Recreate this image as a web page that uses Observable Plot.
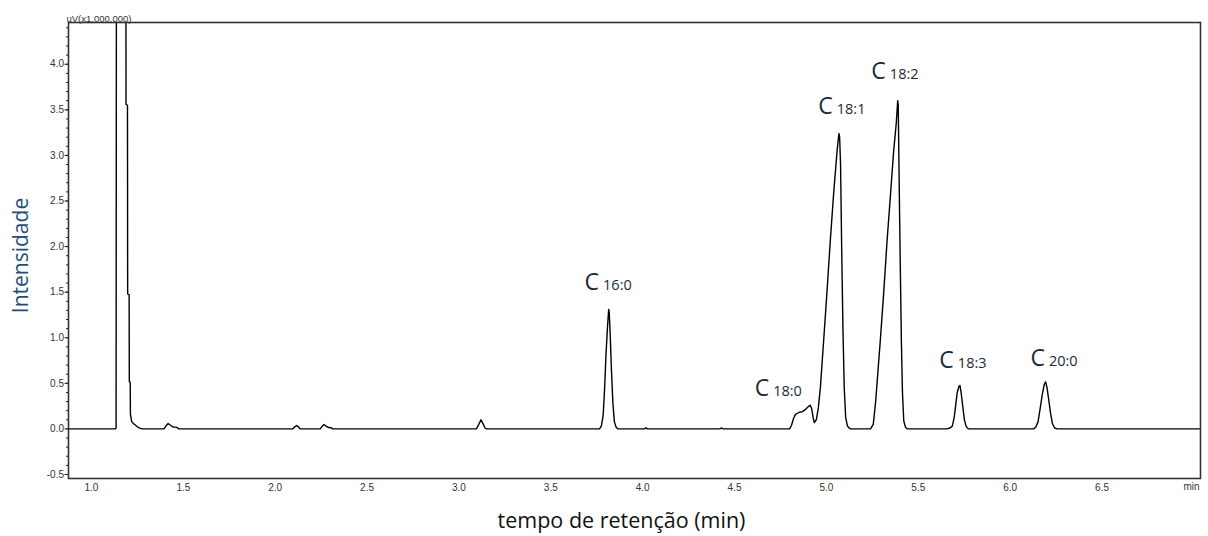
<!DOCTYPE html>
<html>
<head>
<meta charset="utf-8">
<script src="https://cdn.jsdelivr.net/npm/d3@7"></script>
<script src="https://cdn.jsdelivr.net/npm/@observablehq/plot@0.6"></script>
<style>
  html, body { margin: 0; padding: 0; background: #fff; }
</style>
</head>
<body>
<div id="chart"></div>
<script>
// Retention time (min) and detector intensity (uV x 1,000,000)
const time = [
  0.875, 1.130, 1.134, 1.138, 1.186, 1.188, 1.196, 1.197, 1.205, 1.206, 1.211, 1.212, 1.219, 1.228, 1.240, 1.255, 1.275,
  1.395, 1.405, 1.417, 1.430, 1.445, 1.458, 1.466, 1.475,
  2.095, 2.108, 2.117, 2.128, 2.135,
  2.245, 2.256, 2.265, 2.277, 2.290, 2.305, 2.312,
  3.095, 3.108, 3.120, 3.130, 3.142, 3.150,
  3.765, 3.775, 3.785, 3.793, 3.800, 3.808, 3.815, 3.818, 3.823, 3.830, 3.838, 3.846, 3.855, 3.865,
  4.010, 4.018, 4.026,
  4.420, 4.428, 4.438,
  4.800, 4.810, 4.822, 4.832, 4.850, 4.870, 4.890, 4.905, 4.912, 4.920, 4.928, 4.934, 4.945, 4.956,
  4.967, 4.985, 5.003, 5.021, 5.040, 5.058, 5.068, 5.072, 5.077, 5.083, 5.090, 5.097, 5.105, 5.115, 5.130,
  5.240, 5.255, 5.268, 5.280, 5.293, 5.312, 5.330, 5.348, 5.366, 5.380, 5.388, 5.391, 5.396, 5.402, 5.408, 5.414, 5.421, 5.430, 5.440,
  5.655, 5.672, 5.685, 5.695, 5.703, 5.712, 5.722, 5.727, 5.733, 5.742, 5.751, 5.760, 5.772,
  6.128, 6.140, 6.152, 6.163, 6.175, 6.186, 6.193, 6.200, 6.210, 6.220, 6.230, 6.242, 6.255,
  7.036
];
const intensity = [
  0, 0, 0.01, 12, 12, 3.56, 3.55, 1.48, 1.47, 0.52, 0.51, 0.16, 0.08, 0.06, 0.04, 0.015, 0,
  0, 0.03, 0.06, 0.04, 0.02, 0.02, 0.015, 0,
  0, 0.025, 0.037, 0.02, 0,
  0, 0.03, 0.048, 0.03, 0.015, 0.012, 0,
  0, 0.05, 0.10, 0.06, 0.01, 0,
  0, 0.03, 0.15, 0.45, 0.80, 1.10, 1.31, 1.28, 1.05, 0.65, 0.28, 0.08, 0.02, 0,
  0, 0.012, 0,
  0, 0.01, 0,
  0, 0.04, 0.12, 0.16, 0.18, 0.19, 0.22, 0.25, 0.26, 0.22, 0.12, 0.07, 0.10, 0.23,
  0.45, 0.97, 1.50, 2.06, 2.60, 3.05, 3.24, 3.20, 2.90, 2.00, 1.10, 0.45, 0.12, 0.03, 0,
  0, 0.05, 0.30, 0.62, 0.96, 1.50, 2.06, 2.55, 3.05, 3.35, 3.60, 3.55, 2.70, 1.80, 0.96, 0.40, 0.09, 0.02, 0,
  0, 0.01, 0.03, 0.12, 0.25, 0.40, 0.47, 0.475, 0.40, 0.25, 0.10, 0.03, 0,
  0, 0.02, 0.08, 0.22, 0.38, 0.49, 0.515, 0.46, 0.32, 0.17, 0.06, 0.01, 0,
  0
];

// Peak labels
const peakNames = ["16:0", "18:0", "18:1", "18:2", "18:3", "20:0"];
const peakLabelTime = [3.768, 4.694, 5.040, 5.329, 5.699, 6.195];
const peakLabelValue = [1.526, 0.360, 3.451, 3.839, 0.671, 0.690];

// Axis ticks
const xTicks = [1.0, 1.5, 2.0, 2.5, 3.0, 3.5, 4.0, 4.5, 5.0, 5.5, 6.0, 6.5];
const yTicks = [-0.5, 0.0, 0.5, 1.0, 1.5, 2.0, 2.5, 3.0, 3.5, 4.0];
const yMinorTicks = d3.range(-5, 45).map(d => d / 10);

const series = time.map((t, i) => ({t, v: intensity[i]}));
const labels = peakNames.map((n, i) => ({n, t: peakLabelTime[i], v: peakLabelValue[i]}));

const labelColor = "#1b2a3c";

const chart = Plot.plot({
  width: 1208,
  height: 536,
  marginLeft: 68,
  marginRight: 8,
  marginTop: 22,
  marginBottom: 58,
  style: {fontFamily: "'Liberation Sans', Arial, sans-serif", background: "#fff"},
  x: {domain: [0.875, 7.036]},
  y: {domain: [-0.544, 4.458]},
  marks: [
    Plot.axisY(yMinorTicks, {tickSize: 2, text: null, stroke: "#222", strokeWidth: 1, label: null}),
    Plot.axisY(yTicks, {tickSize: 3.5, tickPadding: 1, tickFormat: d => d.toFixed(1), fontSize: 10, fill: "#333", stroke: "#222", label: null}),
    Plot.axisX(xTicks, {tickSize: 0, tickPadding: 5, tickFormat: d => d.toFixed(1), fontSize: 10, fill: "#333", label: null}),
    Plot.line(series, {x: "t", y: "v", stroke: "#000", strokeWidth: 1.4, clip: true}),
    Plot.frame({stroke: "#333", strokeWidth: 1.6}),
    Plot.text(labels, {x: "t", y: "v", text: () => "C", textAnchor: "end", lineAnchor: "bottom", dx: -1, fontSize: 23, fill: labelColor, fontFamily: "'Open Sans', sans-serif"}),
    Plot.text(labels, {x: "t", y: "v", text: "n", textAnchor: "start", lineAnchor: "bottom", dx: 3, fontSize: 14.5, fill: labelColor, fontFamily: "'Open Sans', sans-serif"}),
    Plot.text(["uV(x1,000,000)"], {frameAnchor: "top-left", textAnchor: "start", lineAnchor: "bottom", dx: -2, dy: -1, fontSize: 9.5, fill: "#333"}),
    Plot.text(["min"], {frameAnchor: "bottom-right", textAnchor: "end", lineAnchor: "top", dx: -1, dy: 4, fontSize: 10, fill: "#333"}),
    Plot.text(["tempo de retenção (min)"], {frameAnchor: "bottom", textAnchor: "middle", lineAnchor: "bottom", dx: -13, dy: 49, fontSize: 21.5, fill: "#111", fontFamily: "'Open Sans', sans-serif"}),
    Plot.text(["Intensidade"], {frameAnchor: "left", textAnchor: "middle", lineAnchor: "middle", rotate: -90, dx: -47, dy: 5, fontSize: 21, fill: "#1F4E79", fontFamily: "'Open Sans', sans-serif"})
  ]
});
document.getElementById("chart").appendChild(chart);
</script>
</body>
</html>
